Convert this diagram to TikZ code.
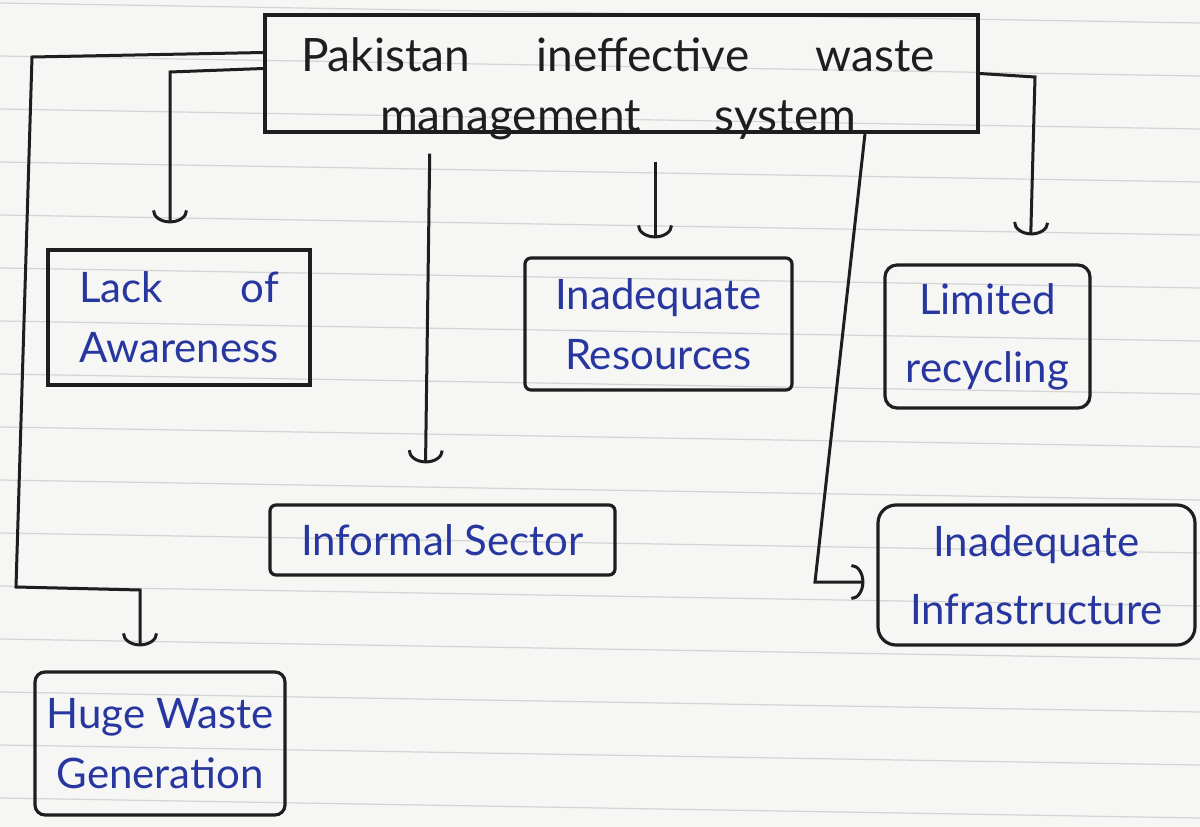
\documentclass[tikz,border=0pt]{standalone}
\usepackage{fontspec}
\setmainfont{Lato}
\usetikzlibrary{arrows.meta,calc}
\definecolor{ink}{RGB}{40,55,160}
\definecolor{pen}{RGB}{30,30,30}
\definecolor{paper}{RGB}{246,246,244}
\definecolor{rulecol}{RGB}{212,212,212}
\begin{document}
\begin{tikzpicture}[x=1pt,y=-1pt,
  box/.style={draw=pen,line width=3.2pt,inner sep=0pt,align=center,text=ink},
  conn/.style={draw=pen,line width=3pt,-{Arc Barb[width=36pt,length=13pt]}},
  boxfont/.style={font=\fontsize{42}{60}\selectfont},
  boxfontw/.style={font=\fontsize{42}{68}\selectfont}]
% paper
\fill[paper] (0,0) rectangle (1200,827);
\useasboundingbox (0,0) rectangle (1200,827);
\foreach \k in {-1,...,15}{
  \draw[rulecol,line width=1.2pt] (0,{56+53*\k}) -- (1200,{76+53*\k});
}
% nodes
\node[box,minimum width=713pt,minimum height=117pt] (main) at (621.5,73.5) {};
\node[text=pen,align=center,inner sep=0pt,font=\fontsize{46}{60}\selectfont] (maintitle) at (618,89)
  {\makebox[634pt][s]{Pakistan\hfill ineffective\hfill waste}\\
   \makebox[476pt][s]{management\hfill system}};
\node[box,boxfont,minimum width=262pt,minimum height=135pt] (lack) at (179,317.5) {\makebox[200pt][s]{Lack\hfill of}\\Awareness};
\node[box,boxfont,rounded corners=6pt,minimum width=267pt,minimum height=132pt] (res) at (658.5,324) {Inadequate\\Resources};
\node[box,boxfontw,rounded corners=12pt,minimum width=205pt,minimum height=143pt] (lim) at (987.5,336.5) {Limited\\recycling};
\node[box,boxfont,rounded corners=6pt,minimum width=345pt,minimum height=70pt] (inf) at (442.5,540) {Informal Sector};
\node[box,boxfontw,rounded corners=18pt,minimum width=317pt,minimum height=140pt] (infra) at (1036.5,575) {Inadequate\\Infrastructure};
\node[box,boxfont,rounded corners=10pt,minimum width=250pt,minimum height=143pt] (huge) at (160,743.5) {Huge Waste\\Generation};
% bend points
\coordinate (h1) at (32,57);
\coordinate (h2) at (16,587);
\coordinate (h3) at (140,590);
\coordinate (l1) at (170,72);
\coordinate (i1) at (430,0);
\coordinate (i2) at (425,0);
\coordinate (r0) at (655,0);
\coordinate (m1) at (1035,77);
\coordinate (m2) at (1030,0);
\coordinate (f0) at (865,0);
\coordinate (f1) at (815,582);
% connectors
\draw[conn,shorten >=24pt] ([yshift=21pt]main.west) -- (h1) -- (h2) -- (h3) -- (h3 |- huge.north);
\draw[conn,shorten >=25pt] ([yshift=5pt]main.west) -- (l1) -- (l1 |- lack.north);
\draw[conn,shorten <=20pt,shorten >=40pt] (i1 |- main.south) -- (i2 |- inf.north);
\draw[conn,shorten <=28pt,shorten >=18pt] (r0 |- main.south) -- (r0 |- res.north);
\draw[conn,shorten >=28pt] (main.east) -- (m1) -- (m2 |- lim.north);
\draw[conn,shorten >=12pt] (f0 |- main.south) -- (f1) -- (infra.west |- f1);
\end{tikzpicture}
\end{document}
